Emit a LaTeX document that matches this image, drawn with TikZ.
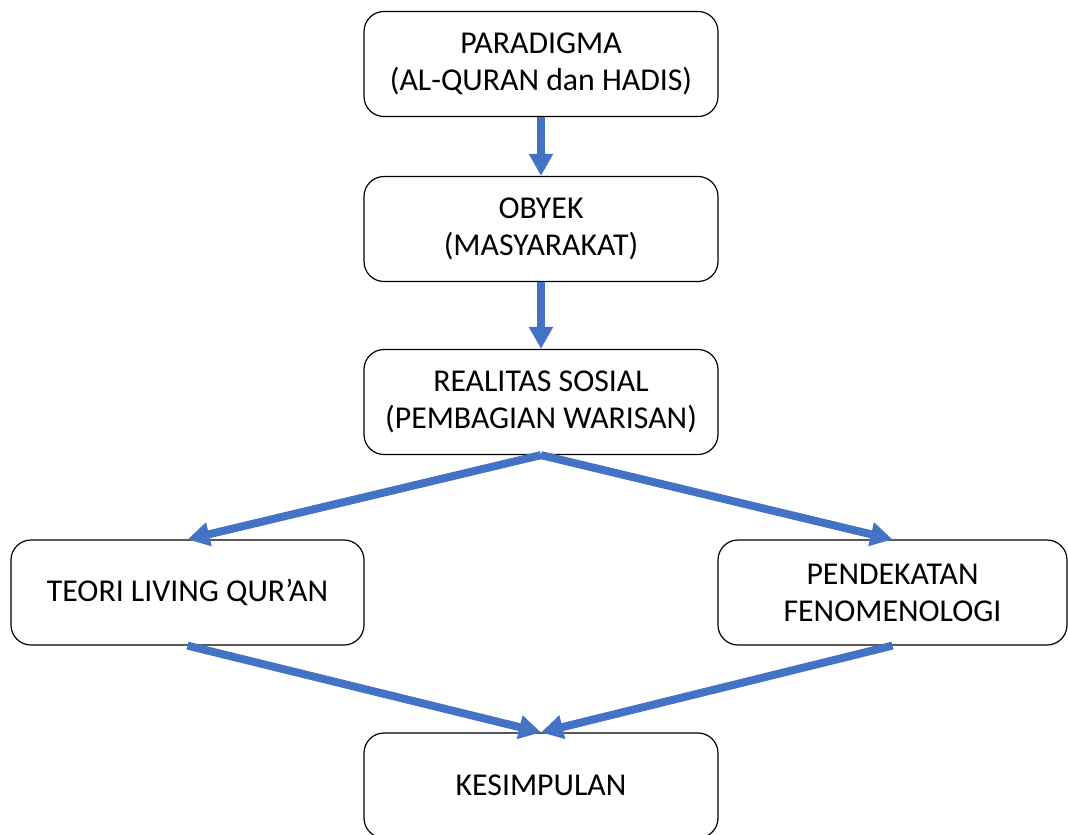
\documentclass[tikz,border=0pt]{standalone}
\usepackage{fontspec}
\setmainfont{Carlito}
\usetikzlibrary{arrows.meta}
\definecolor{flowblue}{HTML}{4472C4}

\begin{document}
\begin{tikzpicture}[x=0.5pt,y=-0.5pt,
  box/.style={draw,line width=0.6pt,rounded corners=10pt,minimum width=177pt,minimum height=52.5pt,align=center,font=\fontsize{15.9}{18.6}\selectfont},
  flow/.style={-{Triangle[width=11.5pt,length=11pt]},line width=4pt,flowblue}]
\useasboundingbox (0,0) rectangle (1068,834);

\node [box] (para) at (541,64) {PARADIGMA\\(AL-QURAN dan HADIS)};
\node [box] (obyek) at (541,229) {OBYEK\\(MASYARAKAT)};
\node [box] (real) at (541,402) {REALITAS SOSIAL\\(PEMBAGIAN WARISAN)};
\node [box,minimum width=176.5pt] (teori) at (187.5,592.5) {TEORI LIVING QUR'AN};
\node [box,minimum width=174.5pt] (feno) at (892.5,592.5) {PENDEKATAN\\FENOMENOLOGI};
\node [box] (kesim) at (541,785.5) {KESIMPULAN};

\draw[flow]  (para)  --  (obyek);
\draw[flow]  (obyek)  --  (real);
\draw[flow]  (real.south)  --  (teori.north);
\draw[flow]  (real.south)  --  (feno.north);
\draw[flow]  (teori.south)  --  (kesim.north);
\draw[flow]  (feno.south)  --  (kesim.north);

\end{tikzpicture}
\end{document}
